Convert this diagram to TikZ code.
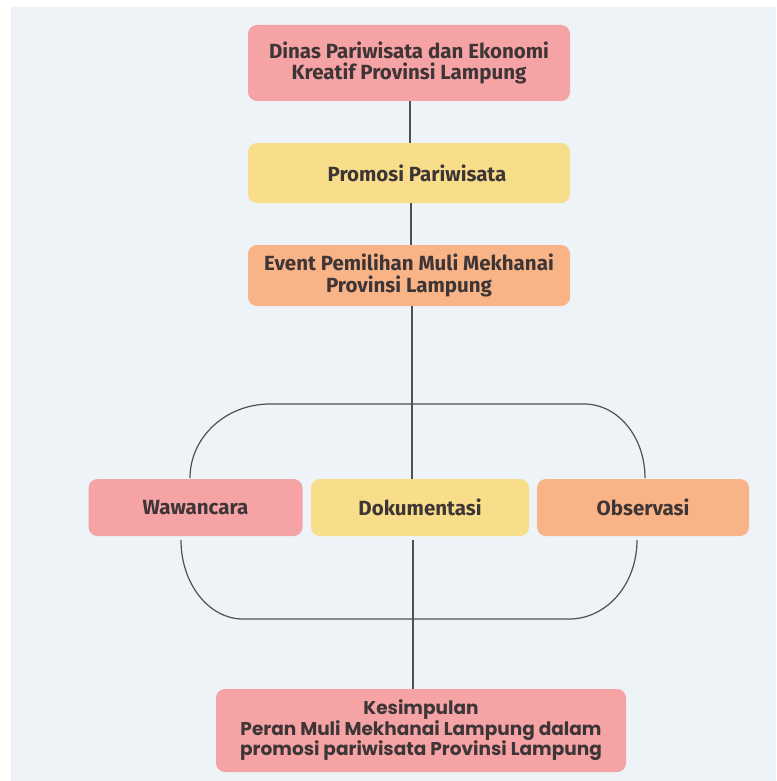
\documentclass[tikz,border=0pt]{standalone}
\usepackage{fontspec}
\newfontfamily\condf{Fira Sans}
\newfontfamily\popf{Poppins}
\definecolor{bgc}{HTML}{EDF3F6}
\definecolor{pinkc}{HTML}{F5A3A5}
\definecolor{yelc}{HTML}{F8DE8A}
\definecolor{orac}{HTML}{F8B386}
\definecolor{txtc}{HTML}{3E3536}
\definecolor{linec}{HTML}{505050}
\tikzset{
  boxbase/.style={rounded corners=9pt, inner sep=0pt, align=center, text=txtc},
  topbox/.style={boxbase, minimum width=322pt, font=\condf\bfseries\fontsize{20.5}{21.5}\selectfont},
  midbox/.style={boxbase, minimum width=214pt, minimum height=57pt, font=\condf\bfseries\fontsize{20.5}{21.5}\selectfont},
  endbox/.style={boxbase, minimum width=410pt, minimum height=83pt, font=\popf\bfseries\fontsize{18.5}{20.5}\selectfont},
  conn/.style={draw=linec, line width=1.2pt},
}
\begin{document}
\begin{tikzpicture}[x=1pt,y=-1pt]
\useasboundingbox (0,0) rectangle (776,781);
\fill[white] (0,0) rectangle (776,781);
\fill[bgc] (11,7) rectangle (776,781);
% loop
\draw[conn] (190,478) .. controls (190,437) and (226,404) .. (270,404)
  -- (584,404) .. controls (618,404) and (645,437) .. (645,478);
\draw[conn] (181,540) .. controls (181,584) and (209,619) .. (243,619)
  -- (569,619) .. controls (607,619) and (637,584) .. (637,540);
% boxes
\node[topbox, fill=pinkc, minimum height=76pt] (dinas) at (409,63) {Dinas Pariwisata dan Ekonomi\\Kreatif Provinsi Lampung};
\node[topbox, fill=yelc, minimum height=60pt] (promo) at (409,173) {\hspace*{16pt}Promosi Pariwisata};
\node[topbox, fill=orac, minimum height=61pt] (event) at (409,275.5) {Event Pemilihan Muli Mekhanai\\Provinsi Lampung};
\node[midbox, fill=pinkc] (waw) at (195.5,507.5) {Wawancara};
\node[midbox, fill=yelc, minimum width=218pt] (dok) at (420,507.5) {Dokumentasi};
\node[midbox, fill=orac, minimum width=212pt] (obs) at (643,507.5) {Observasi};
\node[endbox, fill=pinkc] (kes) at (421,730.5) {\raisebox{-2pt}{Kesimpulan}\\Peran Muli Mekhanai Lampung dalam\\promosi pariwisata Provinsi Lampung};
% connectors
\draw[conn] (dinas.south -| 410,0) -- (promo.north -| 410,0);
\draw[conn] (promo.south -| 411,0) -- (event.north -| 411,0);
\draw[conn] (event.south -| 412,0) -- (dok.north -| 412,0);
\draw[conn] (dok.south -| 413,0) ++(0,4) -- (kes.north -| 413,0);
\end{tikzpicture}
\end{document}
